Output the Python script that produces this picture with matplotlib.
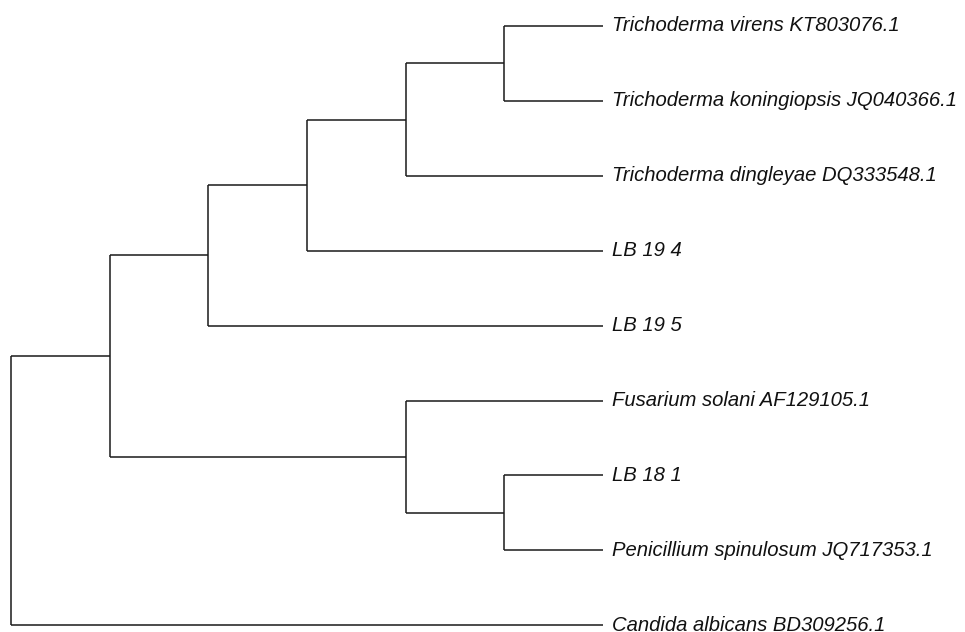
import matplotlib
matplotlib.use('Agg')
import matplotlib.pyplot as plt

# --- TREE DATA ---

leaf_names = [
    "Trichoderma virens KT803076.1",
    "Trichoderma koningiopsis JQ040366.1",
    "Trichoderma dingleyae DQ333548.1",
    "LB 19 4",
    "LB 19 5",
    "Fusarium solani AF129105.1",
    "LB 18 1",
    "Penicillium spinulosum JQ717353.1",
    "Candida albicans BD309256.1",
]

# topology as nested tuples of leaf indices
tree = ((((((0, 1), 2), 3), 4), (5, (6, 7))), 8)


def height(node):
    if isinstance(node, int):
        return 0
    return 1 + max(height(c) for c in node)


def draw(ax, node, top):
    """Draws a clade, returns (x, y) of its node. x = top - height."""
    if isinstance(node, int):
        return top, float(node)
    x = top - height(node)
    pts = [draw(ax, c, top) for c in node]
    ys = [p[1] for p in pts]
    for cx, cy in pts:
        ax.plot([x, cx], [cy, cy], color='#1a1a1a', linewidth=1.1, solid_capstyle='butt')
    ax.plot([x, x], [min(ys), max(ys)], color='#1a1a1a', linewidth=1.1, solid_capstyle='butt')
    return x, (min(ys) + max(ys)) / 2


def main():
    fig = plt.figure(figsize=(9.65, 6.32), dpi=100)
    ax = fig.add_axes([0, 0, 1, 1])
    top = height(tree)
    draw(ax, tree, top)
    for i, name in enumerate(leaf_names):
        ax.text(top + 0.088, i, name, fontsize=14.6, style='italic',
                family=['Liberation Sans', 'DejaVu Sans'],
                va='center', ha='left', color='#111111')
    ax.set_xlim(-0.1115, 9.669)
    ax.set_ylim(8.09, -0.347)
    ax.axis('off')
    fig.savefig('out.png', dpi=100)


if __name__ == '__main__':
    main()
